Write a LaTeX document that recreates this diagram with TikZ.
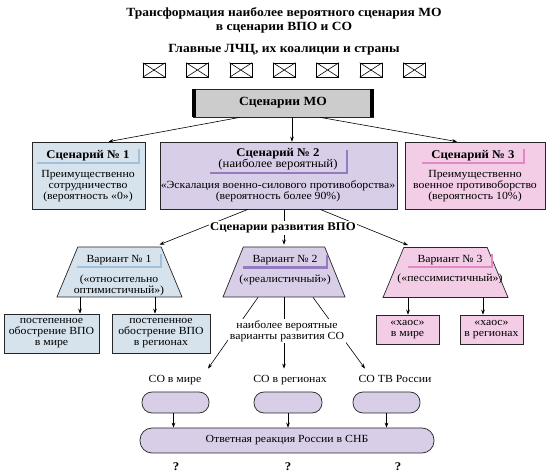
\documentclass[tikz,border=0pt]{standalone}
\usepackage{fontspec}
\setmainfont{Liberation Serif}[FakeStretch=1.08]
\usetikzlibrary{arrows.meta,shapes.geometric,calc}

\definecolor{scBlue}{RGB}{214,226,236}
\definecolor{scBlueRib}{RGB}{160,192,220}
\definecolor{scViolet}{RGB}{216,206,232}
\definecolor{scVioletRib}{RGB}{150,122,192}
\definecolor{scPink}{RGB}{243,205,229}
\definecolor{scPinkRib}{RGB}{226,136,196}
\definecolor{scGray}{RGB}{204,204,204}

\tikzset{
  box/.style={draw=black!85, line width=0.7pt, inner sep=0pt},
  flag/.style={draw, line width=0.6pt, minimum width=22pt, minimum height=14pt, inner sep=0pt},
  trap/.style={draw=black!85, line width=0.7pt, inner sep=3pt, trapezium, trapezium stretches=true,
               trapezium left angle=76, trapezium right angle=76, minimum height=50pt},
  pill/.style={box, fill=scViolet, rounded corners=10pt, minimum width=67pt, minimum height=21pt},
  arr/.style={line width=0.6pt, -{Stealth[length=5pt,width=3.6pt]}},
  rib/.style={line width=2.2pt},
  txt/.style={font=\fontsize{10.9}{11}\selectfont, align=center, inner sep=1pt},
  ttl/.style={font=\fontsize{11.8}{11}\selectfont\bfseries, align=center, inner sep=1pt},
  ttlbig/.style={font=\fontsize{12.5}{13.5}\selectfont\bfseries, align=center, inner sep=0pt}
}

\begin{document}
\begin{tikzpicture}[x=1pt,y=-1pt]
\useasboundingbox (0,0) rectangle (550,476);

% Heading
\node[ttlbig] (title) at (284,20.5) {Трансформация наиболее вероятного сценария МО\\в сценарии ВПО и СО};
\node[ttlbig, anchor=base] (lchc) at (284,52.5) {Главные ЛЧЦ, их коалиции и страны};

% Crossed boxes
\foreach \i in {0,...,6} {
  \node[flag] (f\i) at (154+43.4*\i,70) {};
  \draw[line width=0.6pt] (f\i.north west) -- (f\i.south east) (f\i.south west) -- (f\i.north east);
}

% MO scenarios
\node[box, fill=scGray, minimum width=180pt, minimum height=28pt] (mo) at (283,103) {};
\draw[line width=3.5pt] ([xshift=1.5pt]mo.north west) -- ([xshift=1.5pt]mo.south west);
\draw[line width=3.5pt] ([xshift=-1.5pt]mo.north east) -- ([xshift=-1.5pt]mo.south east);
\node[ttlbig] (mot) at (283,103) {Сценарии МО};

% Scenario boxes
\node[box, fill=scBlue, minimum width=113pt, minimum height=67pt] (s1) at (88.5,175.5) {};
\node[box, fill=scViolet, minimum width=237pt, minimum height=67pt] (s2) at (278.5,175.5) {};
\node[box, fill=scPink, minimum width=140pt, minimum height=67pt] (s3) at (475,175.5) {};

\node[ttl] (s1t) at (88,155.5) {Сценарий № 1};
\draw[rib, scBlueRib] ([xshift=-8pt,yshift=-1pt]s1t.south west) -- ([xshift=8pt,yshift=-1pt]s1t.south east)
  -- ([xshift=8pt]s1t.north east);
\node[txt] (s1b) at (88,186.5) {Преимущественно\\сотрудничество\\(вероятность «0»)};

\draw[rib, scVioletRib] (210,173) -- (347,173) -- (347,150);
\node[ttl] (s2t) at (278,159.5) {Сценарий № 2\\{\normalfont(наиболее вероятный)}};
\node[txt] (s2b) at (278,191) {«Эскалация военно-силового противоборства»\\(вероятность более 90\%)};

\node[ttl] (s3t) at (473,155.5) {Сценарий № 3};
\draw[rib, scPinkRib] ([xshift=-8pt,yshift=-1pt]s3t.south west) -- ([xshift=8pt,yshift=-1pt]s3t.south east)
  -- ([xshift=8pt]s3t.north east);
\node[txt] (s3b) at (475,186.5) {Преимущественно\\военное противоборство\\(вероятность 10\%)};

% Variants
\node[trap, fill=scBlue, minimum width=125pt] (v1) at (119.5,272) {};
\node[trap, fill=scViolet, minimum width=122pt] (v2) at (284,272) {};
\node[trap, fill=scPink, minimum width=125pt] (v3) at (445.5,272.5) {};

\node[txt] (v1t) at (119,260) {Вариант № 1};
\draw[rib, scBlueRib] ([xshift=-8pt,yshift=-1pt]v1t.south west) -- ([xshift=8pt,yshift=-1pt]v1t.south east)
  -- ([xshift=8pt]v1t.north east);
\node[txt] (v1b) at (119,285) {(«относительно\\оптимистичный»)};

\node[txt] (v2t) at (285,260.5) {Вариант № 2};
\draw[rib, scVioletRib] ([xshift=-8pt,yshift=-1pt]v2t.south west) -- ([xshift=8pt,yshift=-1pt]v2t.south east)
  -- ([xshift=8pt]v2t.north east);
\node[txt] (v2b) at (285,280) {(«реалистичный»)};

\node[txt] (v3t) at (450,260) {Вариант № 3};
\draw[rib, scPinkRib] ([xshift=-8pt,yshift=-1pt]v3t.south west) -- ([xshift=8pt,yshift=-1pt]v3t.south east)
  -- ([xshift=8pt]v3t.north east);
\node[txt] (v3b) at (450,279) {(«пессимистичный»)};

% Outcome boxes
\node[box, fill=scBlue, minimum width=95pt, minimum height=39pt] (b1) at (51.5,333.5) {};
\node[txt] at (b1) {постепенное\\обострение ВПО\\в мире};
\node[box, fill=scBlue, minimum width=98pt, minimum height=39pt] (b2) at (161,333.5) {};
\node[txt] at (b2) {постепенное\\обострение ВПО\\в регионах};
\node[box, fill=scPink, minimum width=63pt, minimum height=29pt] (p1) at (407.5,329.5) {};
\node[txt] at (p1) {«хаос»\\в мире};
\node[box, fill=scPink, minimum width=63pt, minimum height=29pt] (p2) at (491.5,329.5) {};
\node[txt] at (p2) {«хаос»\\в регионах};

% SO
\node[txt, anchor=base] (l1) at (175,383) {СО в мире};
\node[txt, anchor=base] (l2) at (290,383) {СО в регионах};
\node[txt, anchor=base] (l3) at (395,383) {СО ТВ России};
\node[pill] (c1) at (175.5,402.5) {};
\node[pill, minimum width=68pt] (c2) at (288,402.5) {};
\node[pill] (c3) at (386.5,402.5) {};
\node[box, fill=scViolet, rounded corners=12pt, minimum width=294pt, minimum height=25pt] (snb) at (287,440.5) {};
\node[txt] at (snb) {Ответная реакция России в СНБ};

\node[ttl] (q1) at (176,467) {?};
\node[ttl] (q2) at (288,467) {?};
\node[ttl] (q3) at (398,467) {?};

% Connectors
\draw[arr] ([xshift=-43pt]mo.south) -- ([xshift=20pt]s1.north);
\draw[arr] ([xshift=9pt]mo.south) -- ([xshift=9pt]mo.south |- s2.north);
\draw[arr] ([xshift=37pt]mo.south) -- ([xshift=-18pt]s3.north);

\draw[arr] ([xshift=-30.5pt]s2.south) -- ([xshift=40pt,yshift=2pt]v1.north);
\draw[arr] ([xshift=5.5pt]s2.south) -- ([xshift=5.5pt,yshift=2pt]s2.south |- v2.north);
\draw[arr] ([xshift=41.5pt]s2.south) -- ([xshift=-37.5pt,yshift=2pt]v3.north);
\node[ttl, fill=white, inner sep=1.5pt] (vpo) at (283,228) {Сценарии развития ВПО};

\draw[arr] ([xshift=-39.5pt]v1.south) -- ([xshift=-39.5pt]v1.south |- b1.north);
\draw[arr] ([xshift=35.5pt]v1.south) -- ([xshift=35.5pt]v1.south |- b2.north);
\draw[arr] ([xshift=-37.5pt]v3.south) -- ([xshift=-37.5pt]v3.south |- p1.north);
\draw[arr] ([xshift=37.5pt]v3.south) -- ([xshift=37.5pt]v3.south |- p2.north);

\draw[arr] ([xshift=-26pt]v2.south) -- ([xshift=33pt,yshift=6pt]l1.north);
\draw[arr] (v2.south) -- ([yshift=6pt]v2.south |- l2.north);
\draw[arr] ([xshift=29pt]v2.south) -- ([xshift=-30pt,yshift=6pt]l3.north);
\node[txt, fill=white, inner sep=1.5pt] (nvr) at (287,331) {наиболее вероятные\\варианты развития СО};

\draw[arr] ([xshift=-2pt]c1.south) -- ([xshift=-2pt]c1.south |- snb.north);
\draw[arr] (c2.south) -- (c2.south |- snb.north);
\draw[arr] (c3.south) -- (c3.south |- snb.north);

\end{tikzpicture}
\end{document}
